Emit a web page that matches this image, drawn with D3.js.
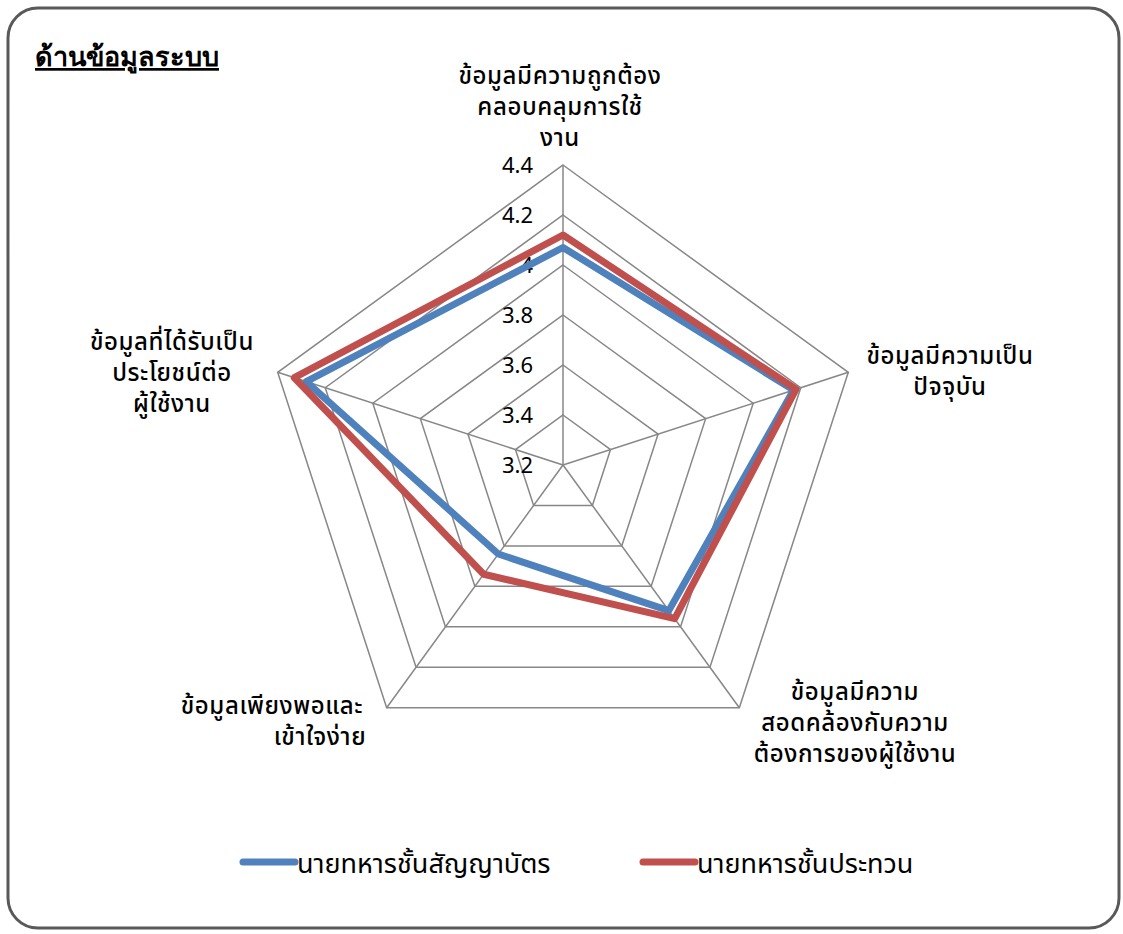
<!DOCTYPE html>
<html>
<head>
<meta charset="utf-8">
<script src="https://cdn.jsdelivr.net/npm/d3@7"></script>
<style>
  body { margin: 0; background: #fff; }
  svg text { font-family: "Noto Sans Thai", "Noto Sans", "DejaVu Sans", sans-serif; fill: #000; }
</style>
</head>
<body>
<div id="chart"></div>
<script>
// axis categories, clockwise from the top
const categories = [
  ['ข้อมูลมีความถูกต้อง', 'คลอบคลุมการใช้', 'งาน'],
  ['ข้อมูลมีความเป็น', 'ปัจจุบัน'],
  ['ข้อมูลมีความ', 'สอดคล้องกับความ', 'ต้องการของผู้ใช้งาน'],
  ['ข้อมูลเพียงพอและ', 'เข้าใจง่าย'],
  ['ข้อมูลที่ได้รับเป็น', 'ประโยชน์ต่อ', 'ผู้ใช้งาน']
];
const seriesNames = ['นายทหารชั้นสัญญาบัตร', 'นายทหารชั้นประทวน'];
const seriesColors = ['#4F81BD', '#C0504D'];
const blueValues = [4.07, 4.17, 3.92, 3.64, 4.28];
const redValues = [4.12, 4.18, 3.96, 3.74, 4.33];
const tickValues = [3.2, 3.4, 3.6, 3.8, 4.0, 4.2, 4.4];
const tickLabels = ['3.2', '3.4', '3.6', '3.8', '4', '4.2', '4.4'];
const title = 'ด้านข้อมูลระบบ';

const width = 1123, height = 934;
const cx = 563, cy = 465, R = 300;

const svg = d3.select('#chart').append('svg')
  .attr('width', width)
  .attr('height', height);

// outer frame
svg.append('rect')
  .attr('x', 8).attr('y', 8)
  .attr('width', 1111).attr('height', 920)
  .attr('rx', 30).attr('ry', 30)
  .attr('fill', '#fff')
  .attr('stroke', '#595959')
  .attr('stroke-width', 3);

const r = d3.scaleLinear().domain([3.2, 4.4]).range([0, R]);
const angle = i => i * 2 * Math.PI / categories.length;
const pt = (i, v) => [cx + r(v) * Math.sin(angle(i)), cy - r(v) * Math.cos(angle(i))];

// grid rings
const grid = svg.append('g');
tickValues.forEach(t => {
  grid.append('polygon')
    .attr('points', categories.map((c, i) => pt(i, t).join(',')).join(' '))
    .attr('fill', 'none')
    .attr('stroke', '#878787')
    .attr('stroke-width', 1.5);
});
// spokes
categories.forEach((c, i) => {
  const [x, y] = pt(i, 4.4);
  grid.append('line')
    .attr('x1', cx).attr('y1', cy)
    .attr('x2', x).attr('y2', y)
    .attr('stroke', '#878787')
    .attr('stroke-width', 1.5);
});

// tick labels
svg.append('g').selectAll('text')
  .data(tickValues)
  .join('text')
  .attr('x', 533)
  .attr('y', d => cy - r(d))
  .attr('dy', '0.36em')
  .attr('text-anchor', 'end')
  .attr('font-size', 22)
  .text((d, i) => tickLabels[i]);

// series
const line = d3.line().curve(d3.curveLinearClosed);
[blueValues, redValues].forEach((vals, s) => {
  svg.append('path')
    .attr('d', line(vals.map((v, i) => pt(i, v))))
    .attr('fill', 'none')
    .attr('stroke', seriesColors[s])
    .attr('stroke-width', 7)
    .attr('stroke-linejoin', 'round');
});

// category labels
const labelPos = [
  { x: [560, 560, 560], y: 84 },
  { x: [950, 950], y: 364 },
  { x: [855, 855, 855], y: 700 },
  { x: [272, 320], y: 714 },
  { x: [172, 172, 172], y: 350 }
];
categories.forEach((lines, i) => {
  const t = svg.append('text')
    .attr('text-anchor', 'middle')
    .attr('font-size', 24)
    .attr('font-weight', 500)
    .attr('letter-spacing', 0.6);
  lines.forEach((l, k) => {
    t.append('tspan')
      .attr('x', labelPos[i].x[k])
      .attr('y', labelPos[i].y + k * 31)
      .text(l);
  });
});

// title
svg.append('text')
  .attr('x', 35).attr('y', 66)
  .attr('font-size', 27)
  .attr('font-weight', 'bold')
  .style('font-family', '"Liberation Serif", "DejaVu Serif", serif')
  .attr('text-decoration', 'underline')
  .text(title);

// legend
const legendX = [240, 640];
seriesNames.forEach((name, s) => {
  const g = svg.append('g').attr('transform', `translate(${legendX[s]},862)`);
  g.append('line')
    .attr('x1', 3).attr('x2', 55)
    .attr('y1', 0).attr('y2', 0)
    .attr('stroke', seriesColors[s])
    .attr('stroke-width', 7)
    .attr('stroke-linecap', 'round');
  g.append('text')
    .attr('x', 57).attr('y', 11)
    .attr('font-size', 27)
    .text(name);
});
</script>
</body>
</html>
